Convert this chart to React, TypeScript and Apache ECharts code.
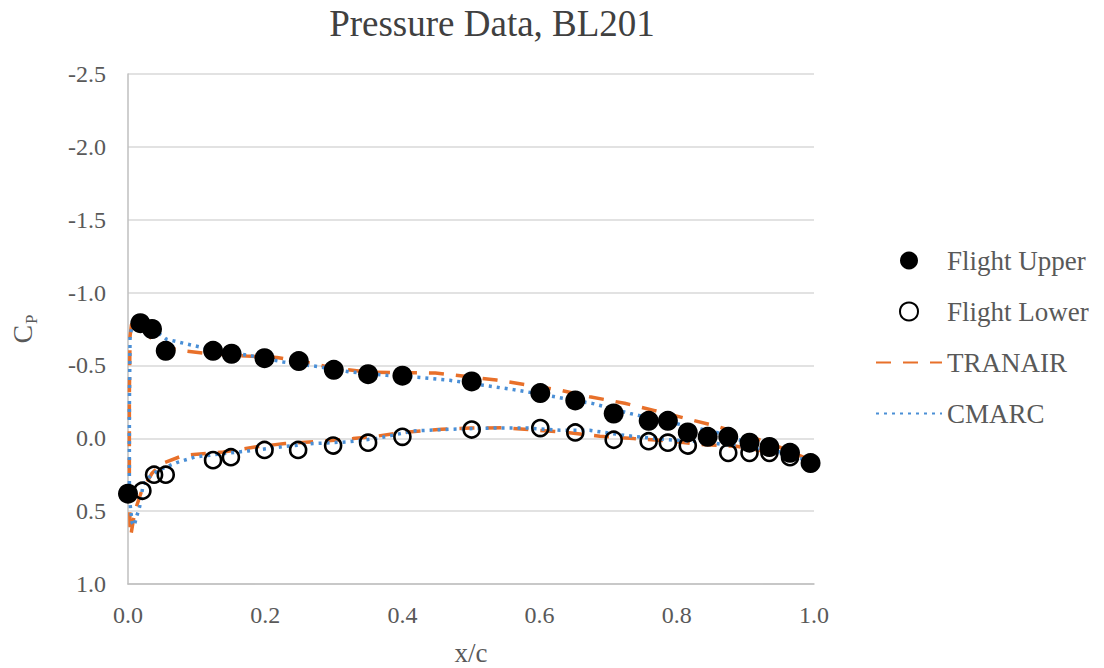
import React, { useEffect, useRef } from 'react';
import * as echarts from 'echarts';

const titleText = 'Pressure Data, BL201';
const xTicks = [0, 0.2, 0.4, 0.6, 0.8, 1.0];
const yTicks = [-2.5, -2.0, -1.5, -1.0, -0.5, 0.0, 0.5, 1.0];

// Flight data (filled = upper surface, open = lower surface)
const upperX = [0.0, 0.018, 0.035, 0.055, 0.124, 0.151, 0.199, 0.249, 0.300, 0.350, 0.400, 0.501, 0.601, 0.652, 0.708, 0.759, 0.787, 0.816, 0.845, 0.875, 0.906, 0.935, 0.965, 0.995];
const upperCp = [0.38, -0.79, -0.75, -0.60, -0.60, -0.58, -0.55, -0.53, -0.47, -0.44, -0.43, -0.39, -0.31, -0.26, -0.17, -0.12, -0.12, -0.04, -0.01, -0.01, 0.03, 0.06, 0.10, 0.17];

const lowerX = [0.021, 0.038, 0.055, 0.124, 0.150, 0.199, 0.248, 0.299, 0.350, 0.400, 0.501, 0.601, 0.652, 0.708, 0.759, 0.787, 0.816, 0.875, 0.906, 0.935, 0.965];
const lowerCp = [0.36, 0.25, 0.25, 0.15, 0.13, 0.08, 0.08, 0.05, 0.03, -0.01, -0.06, -0.07, -0.04, 0.01, 0.02, 0.03, 0.05, 0.10, 0.10, 0.10, 0.13];

// TRANAIR prediction: trailing edge (upper) -> leading edge -> trailing edge (lower)
const tranairX = [0.995, 0.95, 0.902, 0.86, 0.814, 0.768, 0.724, 0.673, 0.63, 0.584, 0.537, 0.491, 0.448, 0.40, 0.35, 0.30, 0.268, 0.217, 0.173, 0.12, 0.08, 0.05, 0.035, 0.02, 0.01, 0.005, 0.003, 0.002, 0.002, 0.003, 0.004, 0.01, 0.02, 0.035, 0.049, 0.081, 0.139, 0.185, 0.229, 0.28, 0.328, 0.362, 0.40, 0.457, 0.50, 0.547, 0.596, 0.635, 0.688, 0.737, 0.79, 0.829, 0.887, 0.94, 0.995];
const tranairCp = [0.15, 0.06, -0.02, -0.08, -0.135, -0.19, -0.24, -0.285, -0.33, -0.365, -0.40, -0.425, -0.448, -0.45, -0.455, -0.48, -0.515, -0.555, -0.565, -0.58, -0.60, -0.63, -0.68, -0.76, -0.80, -0.78, -0.70, -0.30, 0.30, 0.60, 0.67, 0.50, 0.36, 0.24, 0.174, 0.117, 0.094, 0.06, 0.036, 0.021, 0.002, -0.014, -0.04, -0.062, -0.07, -0.073, -0.055, -0.043, -0.014, 0.002, 0.018, 0.041, 0.055, 0.10, 0.16];

// CMARC prediction: same ordering
const cmarcX = [0.995, 0.95, 0.90, 0.858, 0.80, 0.732, 0.678, 0.637, 0.596, 0.562, 0.518, 0.469, 0.426, 0.377, 0.324, 0.28, 0.226, 0.175, 0.12, 0.083, 0.056, 0.045, 0.03, 0.017, 0.008, 0.003, 0.002, 0.002, 0.003, 0.006, 0.009, 0.013, 0.017, 0.022, 0.03, 0.044, 0.071, 0.098, 0.13, 0.175, 0.231, 0.27, 0.319, 0.362, 0.416, 0.469, 0.537, 0.581, 0.63, 0.673, 0.724, 0.785, 0.839, 0.90, 0.95, 0.995];
const cmarcCp = [0.16, 0.094, 0.025, -0.04, -0.10, -0.17, -0.238, -0.272, -0.307, -0.334, -0.364, -0.398, -0.417, -0.432, -0.455, -0.49, -0.524, -0.57, -0.61, -0.65, -0.68, -0.72, -0.80, -0.85, -0.82, -0.70, -0.20, 0.30, 0.45, 0.58, 0.60, 0.53, 0.47, 0.32, 0.27, 0.22, 0.167, 0.128, 0.11, 0.087, 0.055, 0.036, 0.025, 0.002, -0.05, -0.062, -0.071, -0.071, -0.055, -0.055, -0.02, 0.009, 0.025, 0.06, 0.10, 0.16];

const pairs = (xs: number[], ys: number[]) => xs.map((x, i) => [x, ys[i]]);

const FONT = 'Liberation Serif';
const LABEL = '#595959';
const ORANGE = '#E8702A';
const BLUE = '#4A8FD6';

export default function App() {
  const ref = useRef<HTMLDivElement>(null);
  useEffect(() => {
    const chart = echarts.init(ref.current!, undefined, { renderer: 'svg' });
    chart.setOption({
      animation: false,
      backgroundColor: '#ffffff',
      textStyle: { fontFamily: FONT },
      title: {
        text: titleText,
        left: 487,
        textAlign: 'center',
        top: 0,
        textStyle: { fontFamily: FONT, fontSize: 37, fontWeight: 'normal', color: '#404040' },
      },
      legend: {
        orient: 'vertical',
        left: 870,
        top: 242,
        itemWidth: 66,
        itemHeight: 18,
        itemGap: 24,
        data: [
          { name: 'Flight Upper' },
          { name: 'Flight Lower' },
          { name: 'TRANAIR', itemStyle: { opacity: 0, color: 'rgba(0,0,0,0)', borderWidth: 0 } },
          { name: 'CMARC', itemStyle: { opacity: 0, color: 'rgba(0,0,0,0)', borderWidth: 0 } },
        ],
        textStyle: { fontFamily: FONT, fontSize: 27, color: LABEL, lineHeight: 26 },
      },
      grid: { left: 128, right: 290, top: 74, bottom: 84, containLabel: false, outerBoundsMode: 'none' },
      xAxis: {
        type: 'value',
        min: xTicks[0],
        max: xTicks[xTicks.length - 1],
        interval: 0.2,
        name: 'x/c',
        nameLocation: 'middle',
        nameGap: 55,
        nameTextStyle: { fontFamily: FONT, fontSize: 27, color: LABEL },
        axisLine: { onZero: false, lineStyle: { color: '#bfbfbf', width: 1.5 } },
        axisTick: { show: false },
        splitLine: { show: false },
        axisLabel: {
          fontFamily: FONT,
          fontSize: 24,
          color: LABEL,
          margin: 19,
          formatter: (v: number) => v.toFixed(1),
        },
      },
      yAxis: {
        type: 'value',
        inverse: true,
        min: yTicks[0],
        max: yTicks[yTicks.length - 1],
        interval: 0.5,
        name: '{c|C}{p|P}',
        nameLocation: 'middle',
        nameRotate: 90,
        nameGap: 88,
        nameTextStyle: {
          color: LABEL,
          rich: {
            c: { fontFamily: FONT, fontSize: 28, color: LABEL, lineHeight: 36, verticalAlign: 'middle' },
            p: { fontFamily: FONT, fontSize: 17, color: LABEL, lineHeight: 17, verticalAlign: 'bottom', padding: [0, 0, 0, 1] },
          },
        },
        axisLine: { show: true, onZero: false, lineStyle: { color: '#bfbfbf', width: 1.5 } },
        axisTick: { show: false },
        splitLine: { show: true, lineStyle: { color: '#d9d9d9', width: 1.5 } },
        axisLabel: {
          fontFamily: FONT,
          fontSize: 24,
          color: LABEL,
          margin: 22,
          formatter: (v: number) => v.toFixed(1),
        },
      },
      series: [
        {
          name: 'Flight Upper',
          type: 'scatter',
          data: pairs(upperX, upperCp),
          symbol: 'circle',
          symbolSize: 20,
          itemStyle: { color: '#000000', opacity: 1 },
          z: 4,
        },
        {
          name: 'Flight Lower',
          type: 'scatter',
          data: pairs(lowerX, lowerCp),
          symbol: 'circle',
          symbolSize: 16,
          itemStyle: { color: 'rgba(255,255,255,0)', borderColor: '#000000', borderWidth: 2.6, opacity: 1 },
          z: 3,
        },
        {
          name: 'TRANAIR',
          type: 'line',
          data: pairs(tranairX, tranairCp),
          symbol: 'none',
          smooth: false,
          lineStyle: { color: ORANGE, width: 3.5, type: [15, 12] },
          itemStyle: { color: ORANGE },
          z: 2,
        },
        {
          name: 'CMARC',
          type: 'line',
          data: pairs(cmarcX, cmarcCp),
          symbol: 'none',
          smooth: false,
          lineStyle: { color: BLUE, width: 3.5, type: [3, 5] },
          itemStyle: { color: BLUE },
          z: 2,
        },
      ],
    });
    return () => chart.dispose();
  }, []);
  return (
    <div
      ref={ref}
      style={{ position: 'fixed', left: 0, top: 0, width: 1104, height: 668, background: '#ffffff' }}
    />
  );
}
